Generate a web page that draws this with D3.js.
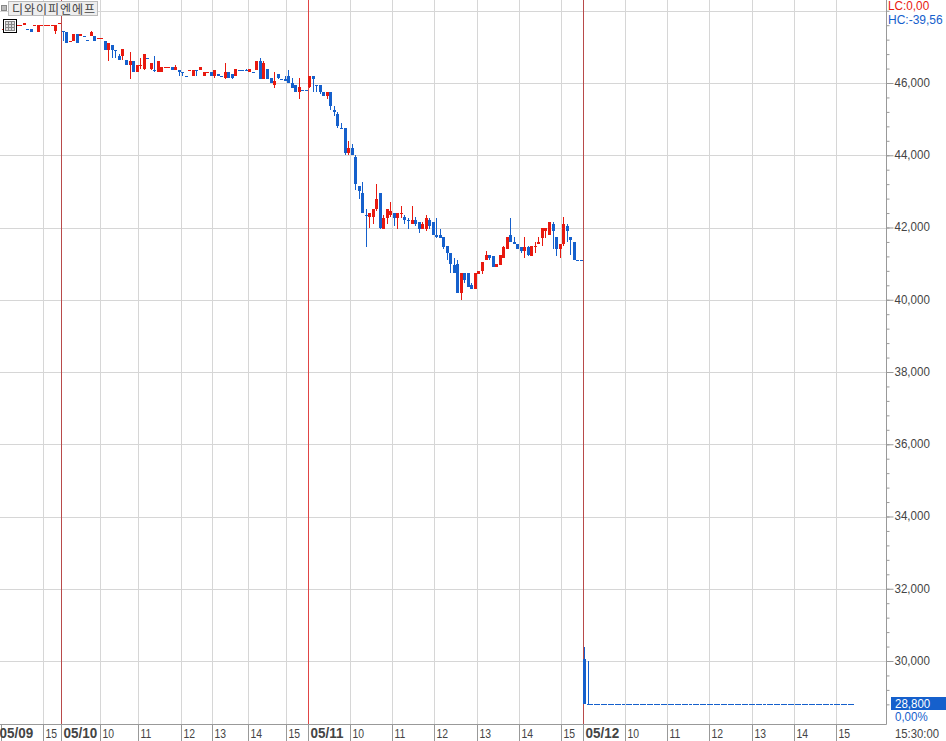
<!DOCTYPE html>
<html>
<head>
<meta charset="utf-8">
<style>
    html, body { margin: 0; padding: 0; background: #fff; overflow: hidden; }
    text { font-family: "Liberation Sans", sans-serif; }
    .axis text { fill: #444; font-size: 13px; }
    .axis line { stroke: #999; }
    .grid { stroke: #d6d6d6; }
</style>
<script src="https://cdnjs.cloudflare.com/ajax/libs/d3/7.8.5/d3.min.js"></script>
</head>
<body>
<div id="chart"></div>
<script>
// 5 minute bars: [open, high, low, close], "d" marks a flat bar that fell
var day0509 = [
    [47500,47500,47500,47500],[47500,47500,47500,47500],[47500,47500,47500,47500],[47500,47500,47500,47500],
    [47600,47600,47600,47600],[47600,47600,47600,47600],[47600,47650,47600,47650],[47500,47500,47500,47500,"d"],
    [47500,47500,47400,47400],[47600,47600,47600,47600],[47400,47600,47400,47600],[47600,47600,47600,47600],
    [47600,47600,47600,47600],[47600,47600,47600,47600],[47600,47600,47600,47600],[47450,47600,47350,47600],
    [47650,47650,47650,47650]
];

var day0510 = [
    [47450,47450,47150,47450,"d"],[47400,47400,47100,47100],[47150,47150,47150,47150],[47150,47350,47150,47350],
    [47350,47350,47100,47100],[47300,47350,47300,47350],[47300,47300,47300,47300,"d"],[47200,47200,47150,47150],
    [47300,47450,47300,47400],[47300,47300,47150,47150],[47250,47250,47250,47250],[47250,47250,47250,47250],
    [47150,47150,46900,46900],[46900,47100,46600,47100],[47050,47050,46700,46900],[46900,46900,46700,46900,"d"],
    [46750,46800,46650,46650],[46750,46950,46650,46950],[46650,46650,46500,46500],[46500,46850,46100,46600],
    [46600,46600,46300,46300],[46300,46500,46300,46500],[46500,46700,46400,46500],[46400,46800,46350,46800],
    [46700,46700,46700,46700,"d"],[46400,46550,46350,46550],[46350,46750,46300,46350,"d"],[46300,46600,46300,46600],
    [46300,46450,46300,46450],[46450,46450,46450,46450],[46450,46450,46450,46450],[46450,46450,46350,46350],
    [46350,46500,46350,46450],[46350,46350,46200,46300],[46300,46300,46200,46300,"d"],[46200,46200,46200,46200,"d"],
    [46350,46350,46350,46350],[46200,46350,46200,46350],[46350,46350,46200,46350,"d"],[46350,46450,46350,46450],
    [46200,46300,46200,46300],[46300,46300,46300,46300],[46300,46300,46200,46200],[46200,46350,46150,46350],
    [46250,46250,46200,46200],[46200,46200,46200,46200,"d"],[46150,46550,46100,46300],[46300,46300,46150,46150],
    [46250,46250,46100,46150],[46200,46400,46200,46400],[46350,46350,46350,46350,"d"],[46350,46350,46350,46350,"d"],
    [46350,46400,46350,46350,"d"],[46300,46400,46300,46400],[46300,46300,46300,46300,"d"],[46350,46600,46350,46600],
    [46600,46700,46100,46100],[46100,46600,46100,46550],[46400,46400,46100,46100],[46150,46150,46000,46000],
    [45950,46300,45850,46050],[46250,46250,46100,46150],[46100,46100,46100,46100,"d"],[46100,46200,46050,46050],
    [46200,46350,46000,46000],[46000,46150,45850,45850],[45950,45950,45750,45750],[45750,46150,45550,45900],
    [45800,45800,45800,45800,"d"],[45800,45800,45800,45800,"d"]
];

var day0511 = [
    [45900,46200,45850,46200],[46200,46200,45750,46100],[45950,45950,45750,45950,"d"],[45950,45950,45700,45750],
    [45750,45750,45650,45650],[45650,45750,45550,45750],[45750,45750,45250,45350],[45250,45350,45100,45200],
    [45150,45200,44750,44800],[44750,44900,44750,44750,"d"],[44750,44750,44000,44050],[44050,44400,44000,44200],
    [44200,44300,44000,44000],[43950,44000,43050,43200],[43150,43150,42800,43000],[42950,43250,42400,42400],
    [42350,42500,41450,42350,"d"],[42300,42400,42000,42400],[42300,42500,42100,42500],[42500,43200,42450,42800],
    [42950,42950,41950,42000],[41950,42350,41950,42250],[42250,42500,42100,42500],[42350,42700,42300,42450],
    [42400,42400,42050,42250],[42250,42400,41950,42400],[42400,42600,42250,42400],[42300,42350,42100,42200],
    [42200,42250,41950,42200,"d"],[42100,42600,42100,42200],[42200,42300,42050,42100],[42150,42150,41850,41950],
    [41950,42150,41950,42100],[41950,42350,41900,42250],[42200,42250,41950,42050],[42150,42150,41800,41800],
    [41800,42250,41700,41750],[41800,41950,41700,41700],[41750,41750,41400,41450],[41500,41500,41100,41300],
    [41300,41300,40750,41000],[40950,41150,40750,40750],[41000,41100,40200,40200],[40200,40750,40000,40750],
    [40750,40750,40450,40550],[40750,40750,40350,40350],[40400,40450,40300,40300],[40300,40750,40300,40750],
    [40700,40800,40700,40800],[40800,41050,40700,41050],[41100,41350,41100,41250],[41250,41250,41100,41150],
    [41200,41200,40900,40900],[40900,41000,40900,41000],[40950,41250,40950,41250],[41150,41500,41150,41450],
    [41400,41750,41400,41750],[41800,42250,41600,41600],[41600,41750,41550,41550],[41550,41550,41400,41400],
    [41450,41450,41300,41350],[41350,41750,41150,41450],[41450,41500,41200,41250],[41200,41500,41200,41500],
    [41500,41600,41300,41500],[41550,41750,41550,41600],[41700,42000,41500,42000],[41900,42000,41700,42000],
    [41800,42150,41800,42150],[42100,42150,41400,41900],[41750,41750,41200,41400],[41400,41550,41150,41550],
    [41550,42300,41500,42100],[42050,42100,41600,41900],[41750,41750,41250,41650],[41600,41600,41100,41100],
    [41100,41100,41100,41100,"d"],[41100,41100,41100,41100,"d"]
];

var day0512 = [
    [30050,30400,28800,28800],[28800,30000,28800,28800,"d"]
];

// rest of the session traded flat at the lower limit
var day0512Flat = [
    28800,28800,28800,28800,28800,28800,28800,28800,28800,28800,28800,28800,28800,28800,28800,28800,28800,28800,28800,
    28800,28800,28800,28800,28800,28800,28800,28800,28800,28800,28800,28800,28800,28800,28800,28800,28800,28800,28800,
    28800,28800,28800,28800,28800,28800,28800,28800,28800,28800,28800,28800,28800,28800,28800,28800,28800,28800,28800,
    28800,28800,28800,28800,28800,28800,28800,28800,28800,28800,28800,28800,28800,28800,28800,28800,28800,28800
];

var priceTicks = [46000, 44000, 42000, 40000, 38000, 36000, 34000, 32000, 30000];
var gridPrices = [48000, 46000, 44000, 42000, 40000, 38000, 36000, 34000, 32000, 30000];

var timeTickBars = [0, 12, 17, 28, 39, 51, 60, 70, 81, 87, 99, 111, 123, 135, 147, 159, 165, 177, 189, 201, 213, 225, 237];
var timeTickLabels = ["05/09", "15", "05/10", "10", "11", "12", "13", "14", "15", "05/11", "10", "11", "12", "13", "14", "15", "05/12", "10", "11", "12", "13", "14", "15"];
var dayBreakBars = [17, 87, 165];

var title = "디와이피엔에프";
var lastPrice = 28800;
var lastChange = "0,00%";
var lcLabel = "LC:0,00";
var hcLabel = "HC:-39,56";
var lastTime = "15:30:00";

var upColor = "#e8190f";
var downColor = "#1560cc";

var width = 946, height = 741;
var axisX = 886.5, axisY = 724.5;

var bars = day0509.concat(day0510, day0511, day0512, day0512Flat.map(function(p) {
    return [p, p, p, p, "d"];
}));

var svg = d3.select("#chart").append("svg")
    .attr("width", width)
    .attr("height", height)
    .style("display", "block");

// x works on the bar number, gridlines sit 1px left of the bar centre
var x = d3.scaleLinear().domain([0, 242]).range([1.4, 854.45]);
var y = d3.scaleLinear().domain([30000, 46000]).range([661, 83]);

function snap(v) { return Math.round(v) + 0.5; }

// the original font is a tall narrow bitmap one, so squeeze the text sideways
function squeeze(sel, factor) {
    sel.each(function() {
        d3.select(this)
            .attr("textLength", this.getComputedTextLength() * factor)
            .attr("lengthAdjust", "spacingAndGlyphs");
    });
}

// grid
svg.append("g").selectAll("line")
    .data(gridPrices)
    .enter().append("line")
    .attr("class", "grid")
    .attr("x1", 0).attr("x2", axisX)
    .attr("y1", function(d) { return snap(y(d)); })
    .attr("y2", function(d) { return snap(y(d)); });

svg.append("g").selectAll("line")
    .data(timeTickBars.slice(1))
    .enter().append("line")
    .attr("class", "grid")
    .attr("y1", 0).attr("y2", axisY)
    .attr("x1", function(d) { return snap(x(d) - 0.5); })
    .attr("x2", function(d) { return snap(x(d) - 0.5); });

// day breaks
svg.append("g").selectAll("line")
    .data(dayBreakBars)
    .enter().append("line")
    .attr("y1", 0).attr("y2", axisY)
    .attr("x1", function(d) { return snap(x(d) - 0.5); })
    .attr("x2", function(d) { return snap(x(d) - 0.5); })
    .attr("stroke", function(d) { return d == 87 ? "#e04545" : "#b84a4a"; });

// candles
var candle = svg.append("g")
    .attr("shape-rendering", "crispEdges")
    .selectAll("g")
    .data(bars)
    .enter().append("g")
    .attr("fill", function(d) {
        if (d[3] > d[0]) return upColor;
        if (d[3] < d[0] || d[4] == "d") return downColor;
        return upColor;
    });

candle.append("rect")
    .attr("x", function(d, i) { return Math.round(x(i) + 1.2); })
    .attr("width", 1)
    .attr("y", function(d) { return Math.round(y(d[1])); })
    .attr("height", function(d) { return Math.max(1, Math.round(y(d[2])) - Math.round(y(d[1]))); });

candle.append("rect")
    .attr("x", function(d, i) { return Math.round(x(i) + 1.2) - 1; })
    .attr("width", 3)
    .attr("y", function(d) { return Math.round(y(Math.max(d[0], d[3]))); })
    .attr("height", function(d) {
        return Math.max(1, Math.round(y(Math.min(d[0], d[3]))) - Math.round(y(Math.max(d[0], d[3]))));
    });

// price axis
var majorAxis = d3.axisRight(y)
    .tickValues(priceTicks)
    .tickSize(7)
    .tickPadding(1)
    .tickFormat(d3.format(","));

var minorAxis = d3.axisRight(y)
    .tickValues(d3.range(28800, 48400, 400))
    .tickSize(3)
    .tickFormat("");

svg.append("g")
    .attr("class", "axis")
    .attr("transform", "translate(" + axisX + ",0)")
    .call(minorAxis)
    .call(function(g) { g.select(".domain").remove(); });

svg.append("g")
    .attr("class", "axis")
    .attr("transform", "translate(" + axisX + ",0)")
    .call(majorAxis)
    .call(function(g) {
        g.select(".domain").remove();
        g.selectAll(".tick text").attr("dy", "0.25em").call(squeeze, 0.89);
    });

svg.append("line")
    .attr("x1", axisX).attr("x2", axisX)
    .attr("y1", 0).attr("y2", axisY)
    .attr("stroke", "#999");

// time axis
var timeAxis = d3.axisBottom(x)
    .tickValues(timeTickBars)
    .tickSize(17)
    .tickFormat(function(d, i) { return timeTickLabels[i]; });

svg.append("g")
    .attr("class", "axis")
    .attr("transform", "translate(0," + axisY + ")")
    .call(timeAxis)
    .call(function(g) {
        g.select(".domain").remove();
        g.selectAll(".tick line").attr("stroke", "#999");
        g.selectAll(".tick")
            .attr("transform", function(d) { return "translate(" + snap(x(d) - 0.5) + ",0)"; });
        g.selectAll(".tick text")
            .attr("text-anchor", "start")
            .attr("x", function(d) { return d == 0 ? -2 : 2; })
            .attr("y", 13)
            .attr("dy", 0)
            .style("font-size", function(d, i) { return timeTickLabels[i].length > 2 ? "14px" : "13px"; })
            .style("font-weight", function(d, i) { return timeTickLabels[i].length > 2 ? "bold" : "normal"; })
            .each(function(d, i) {
                d3.select(this).call(squeeze, timeTickLabels[i].length > 2 ? 0.96 : 0.8);
            });
    });

svg.append("line")
    .attr("x1", 0).attr("x2", axisX)
    .attr("y1", axisY).attr("y2", axisY)
    .attr("stroke", "#999");

// last price box
svg.append("rect")
    .attr("x", 891).attr("y", 697)
    .attr("width", 55).attr("height", 13)
    .attr("fill", downColor);

svg.append("text")
    .attr("x", 895).attr("y", 708)
    .attr("fill", "#fff")
    .attr("font-size", "12px")
    .text(d3.format(",")(lastPrice))
    .call(squeeze, 0.96);

svg.append("text")
    .attr("x", 895).attr("y", 721)
    .attr("fill", downColor)
    .attr("font-size", "12px")
    .text(lastChange)
    .call(squeeze, 0.96);

svg.append("text")
    .attr("x", 895).attr("y", 738)
    .attr("fill", "#444")
    .attr("font-size", "13px")
    .text(lastTime)
    .call(squeeze, 0.87);

svg.append("text")
    .attr("x", 888).attr("y", 10)
    .attr("fill", "#e8190f")
    .attr("font-size", "12px")
    .text(lcLabel)
    .call(squeeze, 0.98);

svg.append("text")
    .attr("x", 888).attr("y", 24)
    .attr("fill", downColor)
    .attr("font-size", "12px")
    .text(hcLabel)
    .call(squeeze, 1);

// title box and little buttons
svg.append("rect")
    .attr("x", 1.5).attr("y", 5.5)
    .attr("width", 5).attr("height", 5)
    .attr("fill", "#bbb").attr("stroke", "#888");

svg.append("rect")
    .attr("x", 8.5).attr("y", 1.5)
    .attr("width", 89).attr("height", 14)
    .attr("fill", "#eee").attr("stroke", "#bbb");

svg.append("text")
    .attr("x", 12).attr("y", 13.5)
    .attr("fill", "#444")
    .style("font-family", "'Noto Sans CJK KR'")
    .attr("font-size", "12px")
    .attr("textLength", 83)
    .text(title);

var icon = svg.append("g").attr("transform", "translate(3.5,19.5)");

icon.append("rect")
    .attr("width", 13).attr("height", 13)
    .attr("fill", "#fff").attr("stroke", "#000");

icon.append("rect")
    .attr("x", 2).attr("y", 2)
    .attr("width", 9).attr("height", 9)
    .attr("fill", "#ddd").attr("stroke", "#888");

icon.selectAll(".v")
    .data([5, 8])
    .enter().append("line")
    .attr("x1", function(d) { return d; }).attr("x2", function(d) { return d; })
    .attr("y1", 2).attr("y2", 11)
    .attr("stroke", "#888");

icon.selectAll(".h")
    .data([5, 8])
    .enter().append("line")
    .attr("y1", function(d) { return d; }).attr("y2", function(d) { return d; })
    .attr("x1", 2).attr("x2", 11)
    .attr("stroke", "#888");
</script>
</body>
</html>
